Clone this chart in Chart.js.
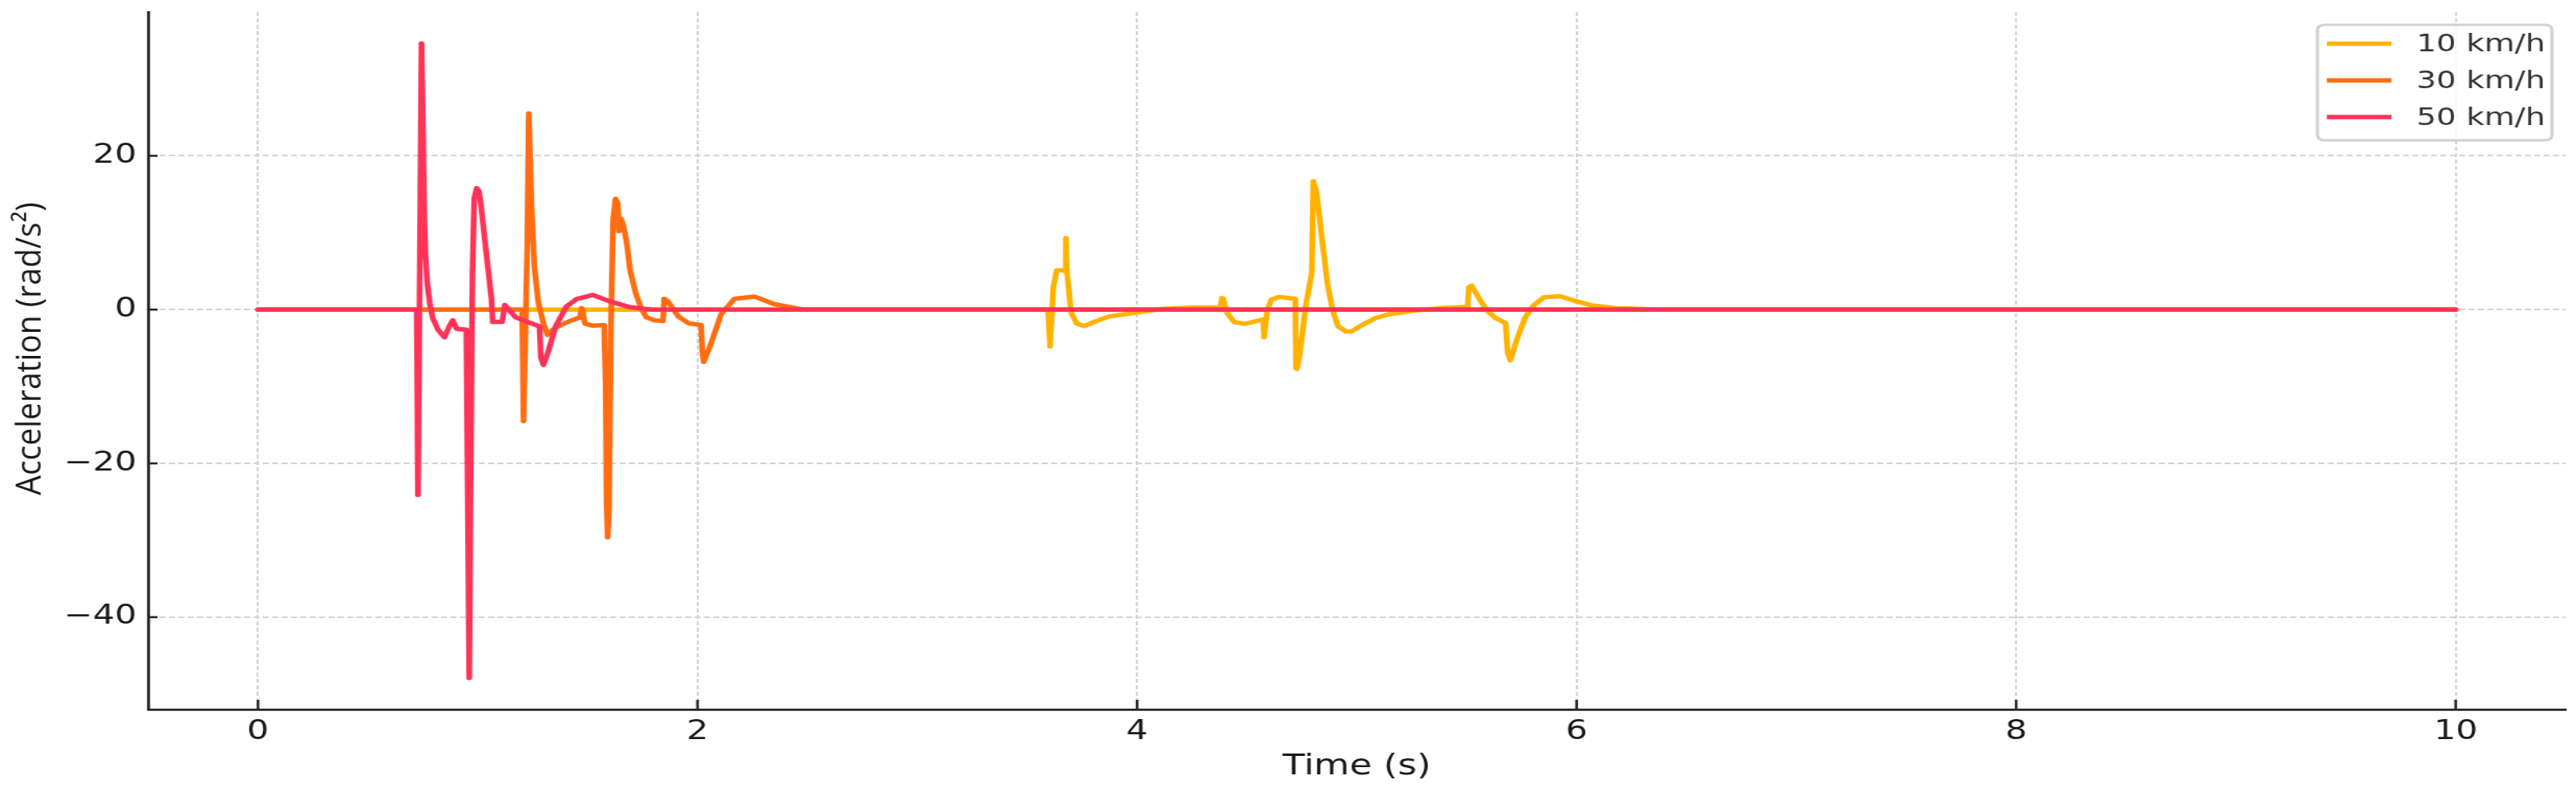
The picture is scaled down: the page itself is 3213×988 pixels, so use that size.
<!DOCTYPE html>
<html>
<head>
<meta charset="utf-8">
<title>Acceleration vs time</title>
<script src="https://cdn.jsdelivr.net/npm/chart.js@4.4.1/dist/chart.umd.min.js"></script>
<style>
  html, body { margin: 0; padding: 0; background: #fff; overflow: hidden; }
  #chart { display: block; }
</style>
</head>
<body>
<!-- the reference is a stretched image, so the canvas is drawn narrower and widened by css -->
<canvas id="chart" width="2470" height="988" style="width:3213px;height:988px"></canvas>
<script>
// values: time (s) and angular acceleration (rad/s²)
var time10 = [0, 3.595, 3.604, 3.619, 3.635, 3.663, 3.672, 3.676, 3.681, 3.700, 3.725, 3.758, 3.806, 3.871, 3.969, 4.116, 4.262, 4.379, 4.386, 4.392, 4.409, 4.441, 4.490, 4.574, 4.578, 4.582, 4.592, 4.611, 4.647, 4.720, 4.723, 4.727, 4.738, 4.768, 4.795, 4.802, 4.817, 4.841, 4.866, 4.890, 4.914, 4.951, 4.975, 5.024, 5.085, 5.145, 5.267, 5.388, 5.504, 5.510, 5.522, 5.559, 5.595, 5.631, 5.677, 5.686, 5.698, 5.728, 5.765, 5.801, 5.850, 5.923, 6.002, 6.069, 6.178, 6.360, 6.6, 10];
var accel10 = [0, 0, -4.8, 3.0, 5.1, 5.1, 5.0, 9.3, 4.9, -0.4, -1.8, -2.15, -1.6, -0.9, -0.5, 0.1, 0.28, 0.28, 1.5, 1.4, -0.4, -1.6, -1.85, -1.3, -3.6, -3.6, -0.1, 1.3, 1.65, 1.4, -7.6, -7.7, -6.3, 0.6, 4.8, 16.7, 15.2, 9.3, 3.4, -0.1, -2.15, -2.85, -2.85, -2.0, -1.1, -0.6, -0.1, 0.2, 0.35, 2.9, 3.1, 1.3, -0.2, -1.1, -1.75, -5.6, -6.6, -3.9, -1.1, 0.45, 1.6, 1.75, 1.05, 0.55, 0.2, 0.03, 0, 0];

var time30 = [0, 1.202, 1.208, 1.225, 1.232, 1.238, 1.244, 1.257, 1.275, 1.299, 1.317, 1.342, 1.378, 1.427, 1.466, 1.472, 1.476, 1.487, 1.524, 1.575, 1.582, 1.586, 1.591, 1.597, 1.606, 1.616, 1.627, 1.637, 1.643, 1.652, 1.662, 1.676, 1.694, 1.718, 1.743, 1.767, 1.803, 1.843, 1.848, 1.854, 1.864, 1.913, 1.961, 2.016, 2.022, 2.028, 2.059, 2.107, 2.168, 2.259, 2.350, 2.472, 2.65, 10];
var accel30 = [0, 0, -14.5, 8, 25.5, 20, 13.8, 5.8, 1.0, -1.8, -3.3, -2.6, -2.0, -1.4, -1.0, 0.2, 0, -1.8, -2.1, -2.0, -10, -25, -29.6, -26, -2, 11.8, 14.4, 13.8, 10.2, 11.8, 11.0, 9.0, 5.0, 2.2, 0.2, -1.0, -1.4, -1.5, 1.4, 1.3, 1.1, -0.9, -1.8, -2.0, -5.5, -6.8, -4.6, -0.6, 1.4, 1.7, 0.7, 0.05, 0, 0];

var time50 = [0, 0.722, 0.728, 0.744, 0.750, 0.756, 0.762, 0.770, 0.782, 0.795, 0.819, 0.849, 0.868, 0.886, 0.904, 0.948, 0.961, 0.968, 0.976, 0.984, 0.995, 1.005, 1.013, 1.040, 1.062, 1.068, 1.111, 1.123, 1.135, 1.172, 1.208, 1.281, 1.287, 1.299, 1.317, 1.354, 1.403, 1.451, 1.524, 1.597, 1.694, 1.791, 10];
var accel50 = [0, 0, -24.1, 34.6, 25, 13, 7, 3.5, 0.8, -1.1, -2.6, -3.6, -2.3, -1.4, -2.5, -2.6, -47.9, -20, 5, 14.5, 15.8, 15.4, 14, 7, 1.5, -1.6, -1.6, 0.6, 0.2, -1.0, -1.4, -2.2, -6.2, -7.2, -5.8, -2.2, 0.4, 1.4, 1.9, 1.1, 0.3, 0, 0];

var seriesLabels = ['10 km/h', '30 km/h', '50 km/h'];
var xTicks = [0, 2, 4, 6, 8, 10];
var yTicks = [-40, -20, 0, 20];
var xTitle = 'Time (s)';
var yTitle = 'Acceleration (rad/s\u00b2)';

var colors = ['#ffb300', '#ff6d12', '#ff3358'];

function points(t, a) {
    return t.map(function (v, i) { return { x: v, y: a[i] }; });
}

function minus(v) {
    return v < 0 ? '\u2212' + Math.abs(v) : String(v);
}

Chart.defaults.font.family = "'DejaVu Sans', sans-serif";
Chart.defaults.color = '#1a1a1a';

// inward tick marks, the y title and a matplotlib style legend box
var extras = {
    id: 'extras',
    afterDatasetsDraw: function (chart) {
        var ctx = chart.ctx, area = chart.chartArea;
        var xs = chart.scales.x, ys = chart.scales.y;
        ctx.save();
        ctx.strokeStyle = '#262626';
        ctx.lineWidth = 2.6;
        xTicks.forEach(function (v) {
            var px = xs.getPixelForValue(v);
            ctx.beginPath();
            ctx.moveTo(px, area.bottom);
            ctx.lineTo(px, area.bottom - 12);
            ctx.stroke();
        });
        yTicks.forEach(function (v) {
            var py = ys.getPixelForValue(v);
            ctx.beginPath();
            ctx.moveTo(area.left, py);
            ctx.lineTo(area.left + 9, py);
            ctx.stroke();
        });

        // y title, narrower glyphs like the picture
        ctx.save();
        ctx.translate(29, 435);
        ctx.rotate(-Math.PI / 2);
        ctx.scale(1, 0.86);
        ctx.font = "39px 'Open Sans'";
        ctx.textAlign = 'center';
        ctx.textBaseline = 'middle';
        ctx.fillStyle = '#1a1a1a';
        ctx.fillText(yTitle, 0, 0);
        ctx.restore();

        // legend
        var bx = area.right - 238, by = area.top + 16, bw = 225, bh = 144, r = 7;
        ctx.beginPath();
        ctx.moveTo(bx + r, by);
        ctx.lineTo(bx + bw - r, by);
        ctx.quadraticCurveTo(bx + bw, by, bx + bw, by + r);
        ctx.lineTo(bx + bw, by + bh - r);
        ctx.quadraticCurveTo(bx + bw, by + bh, bx + bw - r, by + bh);
        ctx.lineTo(bx + r, by + bh);
        ctx.quadraticCurveTo(bx, by + bh, bx, by + bh - r);
        ctx.lineTo(bx, by + r);
        ctx.quadraticCurveTo(bx, by, bx + r, by);
        ctx.closePath();
        ctx.fillStyle = 'rgba(255,255,255,0.8)';
        ctx.fill();
        ctx.strokeStyle = '#d0d0d0';
        ctx.lineWidth = 3;
        ctx.stroke();

        ctx.font = "30px 'DejaVu Sans'";
        ctx.textBaseline = 'middle';
        ctx.textAlign = 'left';
        seriesLabels.forEach(function (lab, i) {
            var ry = by + 23.5 + i * 45.7;
            ctx.strokeStyle = colors[i];
            ctx.lineWidth = 5.5;
            ctx.beginPath();
            ctx.moveTo(bx + 9, ry);
            ctx.lineTo(bx + 71, ry);
            ctx.stroke();
            ctx.fillStyle = '#333';
            ctx.fillText(lab, bx + 95, ry + 2);
        });
        ctx.restore();
    }
};

var ctx = document.getElementById('chart').getContext('2d');
var myChart = new Chart(ctx, {
    type: 'line',
    data: {
        datasets: [
            { label: seriesLabels[0], data: points(time10, accel10), borderColor: colors[0], order: 2 },
            { label: seriesLabels[1], data: points(time30, accel30), borderColor: colors[1], order: 1 },
            { label: seriesLabels[2], data: points(time50, accel50), borderColor: colors[2], order: 0 }
        ]
    },
    options: {
        responsive: false,
        animation: false,
        events: [],
        parsing: false,
        datasets: {
            line: {
                borderWidth: 5.5,
                pointRadius: 0,
                tension: 0,
                fill: false,
                borderJoinStyle: 'round',
                borderCapStyle: 'round'
            }
        },
        layout: { padding: { top: 15, right: 10, left: 0, bottom: 0 } },
        plugins: {
            legend: { display: false },
            tooltip: { enabled: false }
        },
        scales: {
            x: {
                type: 'linear',
                min: -0.5,
                max: 10.5,
                afterBuildTicks: function (s) { s.ticks = xTicks.map(function (v) { return { value: v }; }); },
                afterFit: function (s) { s.height = 103; s.paddingLeft = 0; s.paddingRight = 0; },
                grid: { color: '#d3d3d3', lineWidth: 2, drawTicks: false },
                border: { display: true, color: '#262626', width: 2.8, dash: [5, 3] },
                ticks: {
                    padding: 9,
                    maxRotation: 0,
                    font: { size: 33 },
                    color: '#1a1a1a',
                    callback: function (v) { return minus(v); }
                },
                title: {
                    display: true,
                    text: xTitle,
                    font: { size: 35 },
                    color: '#1a1a1a',
                    padding: { top: 0, bottom: 10 }
                }
            },
            y: {
                type: 'linear',
                min: -52,
                max: 38.7,
                afterBuildTicks: function (s) { s.ticks = yTicks.map(function (v) { return { value: v }; }); },
                afterFit: function (s) { s.width = 142; s.paddingTop = 0; s.paddingBottom = 0; },
                grid: { color: '#d3d3d3', lineWidth: 2, drawTicks: false },
                border: { display: true, color: '#262626', width: 2.8, dash: [6, 3] },
                ticks: {
                    padding: 11,
                    font: { size: 33 },
                    color: '#1a1a1a',
                    callback: function (v) { return minus(v); }
                },
                title: { display: false }
            }
        }
    },
    plugins: [extras]
});
</script>
</body>
</html>
